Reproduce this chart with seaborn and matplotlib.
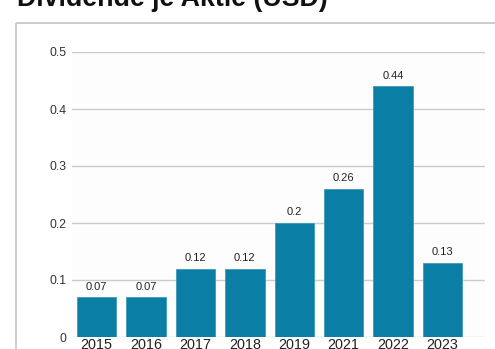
import matplotlib
matplotlib.use("Agg")
import matplotlib.pyplot as plt
from matplotlib.lines import Line2D
import seaborn as sns
import pandas as pd

years = ["2015", "2016", "2017", "2018", "2019", "2021", "2022", "2023"]
dividends = [0.07, 0.07, 0.12, 0.12, 0.20, 0.26, 0.44, 0.13]
y_ticks = [0, 0.1, 0.2, 0.3, 0.4, 0.5]
y_tick_labels = ["0", "0.1", "0.2", "0.3", "0.4", "0.5"]
title = "Dividende je Aktie (USD)"

sns.set_style("white")
plt.rcParams["font.family"] = ["Liberation Sans", "DejaVu Sans"]

W, H = 495, 349
fig = plt.figure(figsize=(W / 100, H / 100), dpi=100, facecolor="white")

# outer box (top and left edges only visible)
box_y = 1 - 22.5 / H
box_x = 15.5 / W
fig.add_artist(Line2D([box_x, 1.02], [box_y, box_y], transform=fig.transFigure,
                      color="#c4c4c4", linewidth=1.2, solid_capstyle="butt",
                      clip_on=False))
fig.add_artist(Line2D([box_x, box_x], [box_y, -0.02], transform=fig.transFigure,
                      color="#c4c4c4", linewidth=1.2, solid_capstyle="butt",
                      clip_on=False))

fig.text(17 / W, 1 - 5.5 / H, title, fontsize=19.3, fontweight="bold",
         color="#111111", ha="left", va="baseline")

ax = fig.add_axes([72 / W, 1 - 337 / H, (485 - 72) / W, (337 - 52) / H])
ax.set_facecolor("#fdfdfd")
df = pd.DataFrame({"year": years, "value": dividends})
sns.barplot(data=df, x="year", y="value", color="#0a7ea4", saturation=1,
            width=0.8, ax=ax, edgecolor="#3f9bb8", linewidth=0.6)

ax.set_ylim(0, 0.5)
ax.set_xlim(-0.5, 7.86)
ax.set_yticks(y_ticks)
ax.set_yticklabels(y_tick_labels)
ax.yaxis.grid(True, color="#cccccc", linewidth=1)
ax.xaxis.grid(False)
ax.set_axisbelow(True)
for s in ax.spines.values():
    s.set_visible(False)
ax.tick_params(axis="y", length=0, pad=4, labelsize=8.8, labelcolor="#333333")
ax.tick_params(axis="x", length=0, pad=1, labelsize=10.4, labelcolor="#222222")
ax.set_xlabel("")
ax.set_ylabel("")

for c in ax.containers:
    ax.bar_label(c, labels=[f"{v:g}" for v in dividends], padding=4,
                 fontsize=8, color="#222222")

fig.savefig("out.png", dpi=100, facecolor="white")
